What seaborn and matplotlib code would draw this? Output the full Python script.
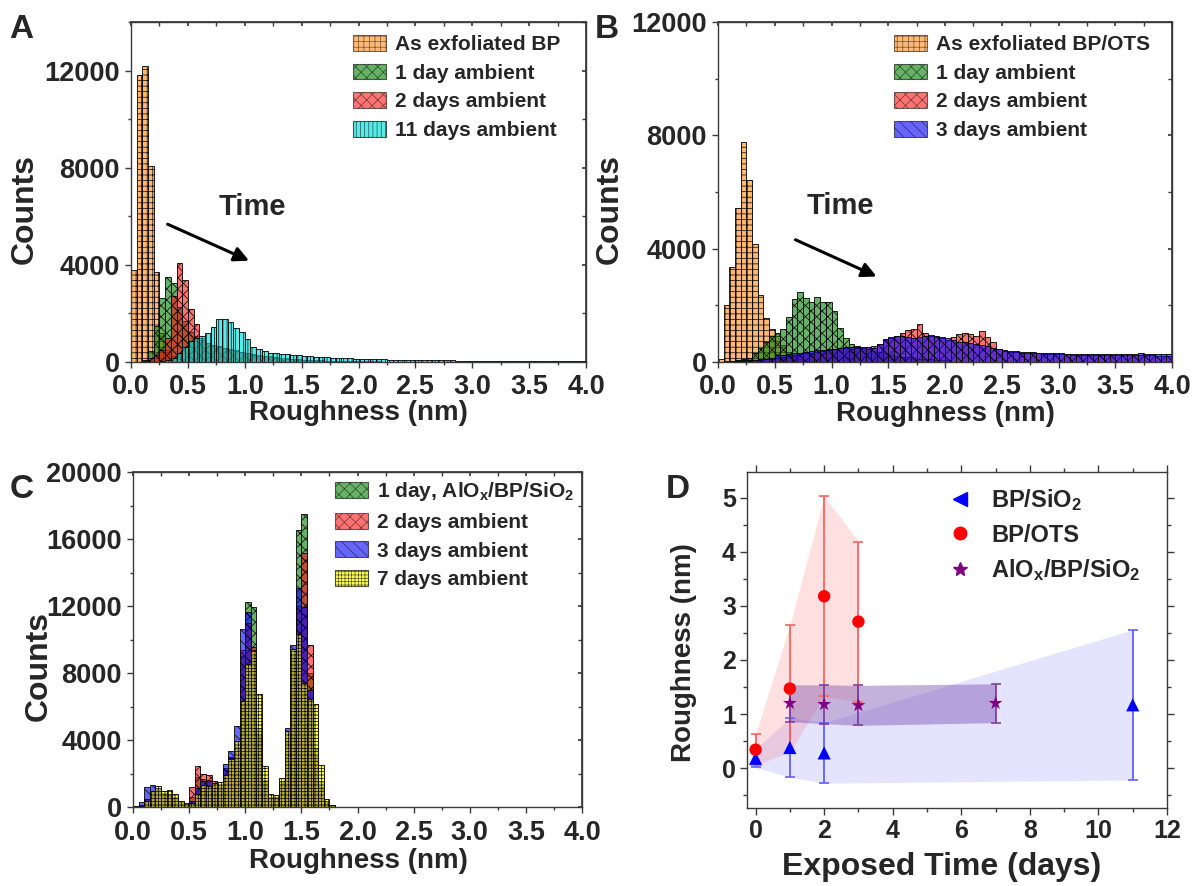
import numpy as np
import pandas as pd
import matplotlib
matplotlib.use('Agg')
import matplotlib.pyplot as plt
import seaborn as sns
from matplotlib.patches import Patch
from matplotlib.lines import Line2D
from matplotlib.ticker import MultipleLocator

# ---------------- data ----------------
BIN_W = 0.05
# Panel A : BP/SiO2 roughness histograms (counts per 0.05 nm bin, starting at 0)
orange_A = [3800, 11820, 12190, 8090, 3700, 1200, 500, 250, 120, 60, 30, 20, 10]
green_A = [0, 20, 100, 450, 1500, 2620, 3480, 3240, 2260, 1700, 1250, 1050, 900, 800, 700, 640,
           580, 530, 480, 430, 380, 330, 290, 260, 230, 200, 180, 160, 140, 120, 100, 90, 80, 70,
           60, 55, 50, 45, 40, 35, 30, 30, 25, 25, 20, 20, 15, 15, 10, 10]
red_A = [0, 0, 30, 150, 300, 490, 970, 2710, 4080, 3370, 2200, 1550, 1000, 800, 700, 620, 560,
         500, 450, 400, 350, 300, 260, 230, 200, 180, 160, 140, 120, 100, 90, 80, 70, 60, 50, 45,
         40, 35, 30, 25, 20, 20, 15, 15, 10, 10]
cyan_A = [0, 0, 0, 10, 20, 40, 90, 180, 350, 600, 850, 1000, 1060, 1205, 1425, 1750, 1750, 1660,
          1385, 1230, 960, 600, 540, 450, 380, 355, 330, 315, 300, 290, 265, 250, 225, 210, 195,
          180, 170, 160, 150, 140, 135, 125, 120, 110, 105, 100, 95, 90, 90, 85, 80, 80, 75, 70,
          70, 65, 65, 60, 60, 55, 55, 55, 50, 50, 50, 45, 45, 45, 40, 40, 40, 40, 35, 35, 35, 35,
          30, 30, 30, 30]
labels_A = ["As exfoliated BP", "1 day ambient", "2 days ambient", "11 days ambient"]

# Panel B : BP/OTS
orange_B = [120, 2000, 3350, 5450, 7760, 6430, 4180, 2350, 1560, 1180, 900, 600, 350, 200, 100, 50, 20]
green_B = [0, 10, 30, 60, 100, 150, 300, 480, 700, 900, 1020, 1180, 1590, 2240, 2470, 2270, 2100,
           2290, 2100, 2120, 1790, 1210, 860, 650, 560, 500, 450, 400, 350, 300, 260, 220, 190,
           160, 140, 120, 100, 90, 80, 70, 60]
red_B = [5, 10, 20, 30, 40, 50, 60, 80, 100, 120, 150, 180, 210, 240, 270, 300, 330, 360, 400, 430,
         460, 480, 480, 470, 480, 500, 520, 560, 650, 780, 850, 920, 1020, 1140, 1180, 1330, 1020,
         920, 880, 850, 790, 880, 1000, 1020, 1000, 900, 1080, 880, 700, 470, 400, 370, 350, 330,
         320, 310, 300, 290, 280, 280, 270, 270, 260, 260, 260, 250, 250, 250, 240, 240, 240, 240,
         230, 230, 230, 230, 230, 220, 220, 220]
blue_B = [10, 20, 40, 50, 60, 70, 80, 100, 120, 150, 230, 260, 280, 300, 320, 350, 380, 410, 440,
          460, 470, 500, 520, 530, 530, 540, 530, 500, 620, 820, 870, 920, 900, 880, 860, 880, 920,
          940, 920, 880, 830, 760, 720, 690, 660, 630, 600, 560, 510, 470, 420, 390, 380, 360, 350,
          340, 330, 320, 310, 300, 300, 290, 290, 280, 290, 280, 280, 270, 280, 270, 280, 270, 270,
          280, 300, 280, 270, 270, 280, 270]
labels_B = ["As exfoliated BP/OTS", "1 day ambient", "2 days ambient", "3 days ambient"]

# Panel C : AlOx/BP/SiO2
green_C = [0, 100, 500, 900, 1000, 850, 800, 600, 300, 200, 600, 1800, 1700, 1600, 1300, 1200, 2300,
           3000, 3600, 9000, 12250, 11940, 4710, 1630, 600, 600, 1500, 4000, 9000, 16520, 17520,
           8000, 3500, 1500, 300, 100]
red_C = [0, 80, 450, 850, 950, 800, 750, 550, 280, 180, 1190, 2420, 1970, 1930, 1530, 1300, 2200,
         2900, 3500, 9370, 11000, 9530, 4210, 1500, 550, 550, 1400, 3900, 8500, 12000, 15170, 9670,
         3060, 1200, 250, 80]
blue_C = [50, 300, 1190, 1310, 1100, 800, 700, 500, 300, 200, 340, 1130, 1530, 1570, 1200, 1100,
          2580, 3360, 4810, 10630, 11660, 9000, 4000, 1400, 500, 500, 1400, 4710, 9670, 13050, 11960,
          6990, 2500, 1000, 200, 50]
yellow_C = [20, 50, 340, 970, 1270, 970, 990, 790, 380, 240, 240, 770, 1330, 1230, 1430, 1470, 1930,
            2880, 3950, 6300, 8520, 9370, 6730, 2420, 770, 730, 1730, 4510, 9410, 10330, 7430, 6430,
            6140, 2520, 480, 140]
labels_C = [r"1 day, AlO$_\mathregular{x}$/BP/SiO$_\mathregular{2}$", "2 days ambient",
            "3 days ambient", "7 days ambient"]

# Panel D : mean roughness vs exposure time
days_sio2 = [0, 1, 2, 11]
rough_sio2 = [0.18, 0.38, 0.28, 1.17]
err_sio2 = [0.17, 0.55, 0.56, 1.39]
days_ots = [0, 1, 2, 3]
rough_ots = [0.34, 1.47, 3.18, 2.71]
err_ots = [0.29, 1.17, 1.85, 1.48]
days_alox = [1, 2, 3, 7]
rough_alox = [1.20, 1.18, 1.16, 1.20]
err_alox = [0.34, 0.36, 0.37, 0.36]
labels_D = [r"BP/SiO$_\mathregular{2}$", "BP/OTS", r"AlO$_\mathregular{x}$/BP/SiO$_\mathregular{2}$"]

# ---------------- style ----------------
sns.set_theme(style='ticks')
plt.rcParams['font.family'] = ['Liberation Sans', 'DejaVu Sans']
plt.rcParams['font.weight'] = 'bold'
plt.rcParams['axes.labelweight'] = 'bold'
plt.rcParams['mathtext.fontset'] = 'custom'
plt.rcParams['mathtext.rm'] = 'Liberation Sans:bold'
plt.rcParams['mathtext.it'] = 'Liberation Sans:bold'
plt.rcParams['mathtext.bf'] = 'Liberation Sans:bold'
plt.rcParams['mathtext.default'] = 'regular'
plt.rcParams['hatch.linewidth'] = 0.5

SPINE = '#3a3a3a'
W, H = 1193, 886
fig = plt.figure(figsize=(W / 100, H / 100), dpi=100, facecolor='white')

def px_axes(l, t, r, b):
    return fig.add_axes([l / W, 1 - b / H, (r - l) / W, (b - t) / H])

axA = px_axes(131, 22, 586, 362)
axB = px_axes(718, 22, 1172, 362)
axC = px_axes(133, 472, 582, 807)
axD = px_axes(747, 472, 1167, 808)

edges = [round(k * BIN_W, 3) for k in range(81)]

STY = {
    'orange': dict(color='#FF8000', alpha=0.55, hatch='+++'),
    'green': dict(color='#008000', alpha=0.6, hatch='xxx'),
    'red': dict(color='#FF0000', alpha=0.55, hatch='xxx'),
    'cyan': dict(color='#00E0E0', alpha=0.65, hatch='||||'),
    'blue': dict(color='#0000FF', alpha=0.6, hatch='\\\\\\'),
    'yellow': dict(color='#FFFF00', alpha=0.65, hatch='+++++'),
}

def hist(ax, counts, key):
    st = STY[key]
    df = pd.DataFrame({'roughness': np.arange(len(counts)) * BIN_W + BIN_W / 2,
                       'count': np.asarray(counts, dtype=float)})
    sns.histplot(data=df, x='roughness', weights='count', bins=edges, ax=ax, color=st['color'],
                 alpha=st['alpha'], hatch=st['hatch'], edgecolor='black', linewidth=0.6)

def legend_patches(keys):
    return [Patch(facecolor=STY[k]['color'], alpha=STY[k]['alpha'], hatch=STY[k]['hatch'],
                  edgecolor='black', linewidth=0.8) for k in keys]

def style_hist_axes(ax, ymax, ymaj, ymin):
    ax.set_xlim(0, 4.0)
    ax.set_ylim(0, ymax)
    ax.xaxis.set_major_locator(MultipleLocator(0.5))
    ax.xaxis.set_minor_locator(MultipleLocator(0.25))
    ax.yaxis.set_major_locator(MultipleLocator(ymaj))
    ax.yaxis.set_minor_locator(MultipleLocator(ymin))
    ax.xaxis.set_major_formatter(matplotlib.ticker.FormatStrFormatter('%.1f'))
    ax.tick_params(which='both', direction='out', top=False, right=False, labelsize=19.5,
                   color=SPINE, width=1)
    ax.tick_params(axis='x', pad=5)
    ax.tick_params(axis='y', pad=4)
    ax.tick_params(which='major', length=4)
    ax.tick_params(which='minor', length=2.5)
    for s in ax.spines.values():
        s.set_visible(True)
        s.set_color(SPINE)
        s.set_linewidth(1.0)
    secx = ax.secondary_xaxis('top')
    secx.xaxis.set_major_locator(MultipleLocator(0.5))
    secx.xaxis.set_minor_locator(MultipleLocator(0.25))
    secx.tick_params(which='both', direction='in', labeltop=False, color=SPINE, length=3)
    secx.spines['top'].set_color(SPINE)
    secy = ax.secondary_yaxis('right')
    secy.yaxis.set_major_locator(MultipleLocator(ymaj))
    secy.yaxis.set_minor_locator(MultipleLocator(ymin))
    secy.tick_params(which='both', direction='in', labelright=False, color=SPINE, length=3)
    secy.spines['right'].set_color(SPINE)
    for t in ax.get_xticklabels() + ax.get_yticklabels():
        t.set_fontweight('bold')

LEG = dict(loc='upper left', frameon=False, handlelength=1.6, handleheight=0.8,
           handletextpad=0.4, labelspacing=0.45, borderpad=0, borderaxespad=0,
           prop={'weight': 'bold', 'size': 15})

# ---------------- Panel A ----------------
for arr, key in zip([orange_A, green_A, red_A, cyan_A], ['orange', 'green', 'red', 'cyan']):
    hist(axA, arr, key)
style_hist_axes(axA, 14000, 4000, 2000)
axA.set_ylabel('Counts', fontsize=23, fontweight='bold')
axA.set_xlabel('Roughness (nm)', fontsize=20, fontweight='bold')
axA.yaxis.set_label_coords(-0.200, 0.45)
axA.xaxis.set_label_coords(0.5, -0.113)
axA.legend(legend_patches(['orange', 'green', 'red', 'cyan']), labels_A,
           bbox_to_anchor=(0.488, 0.962), **LEG)
axA.text(1.07, 6376, 'Time', fontsize=21, fontweight='bold', ha='center', va='center')
axA.annotate('', xy=(1.06, 4126), xytext=(0.30, 5720),
             arrowprops=dict(arrowstyle='-|>', lw=2.2, color='black', mutation_scale=22))

# ---------------- Panel B ----------------
for arr, key in zip([orange_B, green_B, red_B, blue_B], ['orange', 'green', 'red', 'blue']):
    hist(axB, arr, key)
style_hist_axes(axB, 12000, 4000, 2000)
axB.set_ylabel('Counts', fontsize=23, fontweight='bold')
axB.set_xlabel('Roughness (nm)', fontsize=20, fontweight='bold')
axB.yaxis.set_label_coords(-0.206, 0.45)
axB.xaxis.set_label_coords(0.5, -0.114)
axB.legend(legend_patches(['orange', 'green', 'red', 'blue']), labels_B,
           bbox_to_anchor=(0.388, 0.962), **LEG)
axB.text(1.076, 5496, 'Time', fontsize=21, fontweight='bold', ha='center', va='center')
axB.annotate('', xy=(1.42, 2979), xytext=(0.66, 4356),
             arrowprops=dict(arrowstyle='-|>', lw=2.2, color='black', mutation_scale=22))

# ---------------- Panel C ----------------
for arr, key in zip([green_C, red_C, blue_C, yellow_C], ['green', 'red', 'blue', 'yellow']):
    hist(axC, arr, key)
style_hist_axes(axC, 20000, 4000, 2000)
axC.set_ylabel('Counts', fontsize=23, fontweight='bold')
axC.set_xlabel('Roughness (nm)', fontsize=20, fontweight='bold')
axC.yaxis.set_label_coords(-0.177, 0.421)
axC.xaxis.set_label_coords(0.501, -0.121)
axC.legend(legend_patches(['green', 'red', 'blue', 'yellow']), labels_C,
           bbox_to_anchor=(0.45, 0.975), **LEG)

# ---------------- Panel D ----------------
ax = axD
d_s = np.array(days_sio2); r_s = np.array(rough_sio2); e_s = np.array(err_sio2)
d_o = np.array(days_ots); r_o = np.array(rough_ots); e_o = np.array(err_ots)
d_a = np.array(days_alox); r_a = np.array(rough_alox); e_a = np.array(err_alox)
ax.fill_between(d_s, r_s - e_s, r_s + e_s, color='#3030FF', alpha=0.13, linewidth=0)
ax.fill_between(d_o, r_o - e_o, r_o + e_o, color='#FF3030', alpha=0.15, linewidth=0)
ax.fill_between(d_a, r_a - e_a, r_a + e_a, color='#7040A8', alpha=0.4, linewidth=0)
ax.errorbar(d_s, r_s, yerr=e_s, fmt='none', ecolor='#6060FF', elinewidth=1.3, capsize=3.5, capthick=1.2)
ax.errorbar(d_o, r_o, yerr=e_o, fmt='none', ecolor='#FF6060', elinewidth=1.3, capsize=3.5, capthick=1.2)
ax.errorbar(d_a, r_a, yerr=e_a, fmt='none', ecolor='#8040A0', elinewidth=1.3, capsize=3.5, capthick=1.2)
sns.scatterplot(x=d_s, y=r_s, marker='^', color='#0000FF', s=90, edgecolor='none', ax=ax, zorder=5)
sns.scatterplot(x=d_o, y=r_o, marker='o', color='#FF0000', s=80, edgecolor='none', ax=ax, zorder=5)
sns.scatterplot(x=d_a, y=r_a, marker='*', color='#800080', s=110, edgecolor='none', ax=ax, zorder=6)
ax.set_xlim(-0.25, 12)
ax.set_ylim(-0.74, 5.48)
ax.xaxis.set_major_locator(MultipleLocator(2))
ax.xaxis.set_minor_locator(MultipleLocator(1))
ax.yaxis.set_major_locator(MultipleLocator(1))
ax.yaxis.set_minor_locator(MultipleLocator(0.5))
ax.tick_params(which='both', direction='out', top=True, right=True, labelsize=18,
               color=SPINE, width=1, pad=3)
ax.tick_params(which='major', length=5)
ax.tick_params(which='minor', length=3)
for s in ax.spines.values():
    s.set_visible(True)
    s.set_color(SPINE)
    s.set_linewidth(1.0)
for t in ax.get_xticklabels() + ax.get_yticklabels():
    t.set_fontweight('bold')
ax.set_xlabel('Exposed Time (days)', fontsize=23, fontweight='bold')
ax.set_ylabel('Roughness (nm)', fontsize=20, fontweight='bold')
ax.xaxis.set_label_coords(0.4626, -0.13)
ax.yaxis.set_label_coords(-0.119, 0.462)
handles_D = [Line2D([], [], marker='<', color='#0000FF', linestyle='none', markersize=10),
             Line2D([], [], marker='o', color='#FF0000', linestyle='none', markersize=9),
             Line2D([], [], marker='*', color='#800080', linestyle='none', markersize=10)]
ax.legend(handles_D, labels_D, loc='upper left', bbox_to_anchor=(0.464, 0.955), frameon=False,
          handlelength=1.5, handletextpad=0.6, labelspacing=0.45, borderpad=0, borderaxespad=0,
          prop={'weight': 'bold', 'size': 17})

# ---------------- panel letters ----------------
for letter, (x, y) in zip('ABCD', [(21.5, 30), (607, 30), (22, 490), (678, 489)]):
    fig.text(x / W, 1 - y / H, letter, fontsize=24, fontweight='bold', ha='center', va='center')

fig.savefig('out.png', dpi=100, facecolor='white')
